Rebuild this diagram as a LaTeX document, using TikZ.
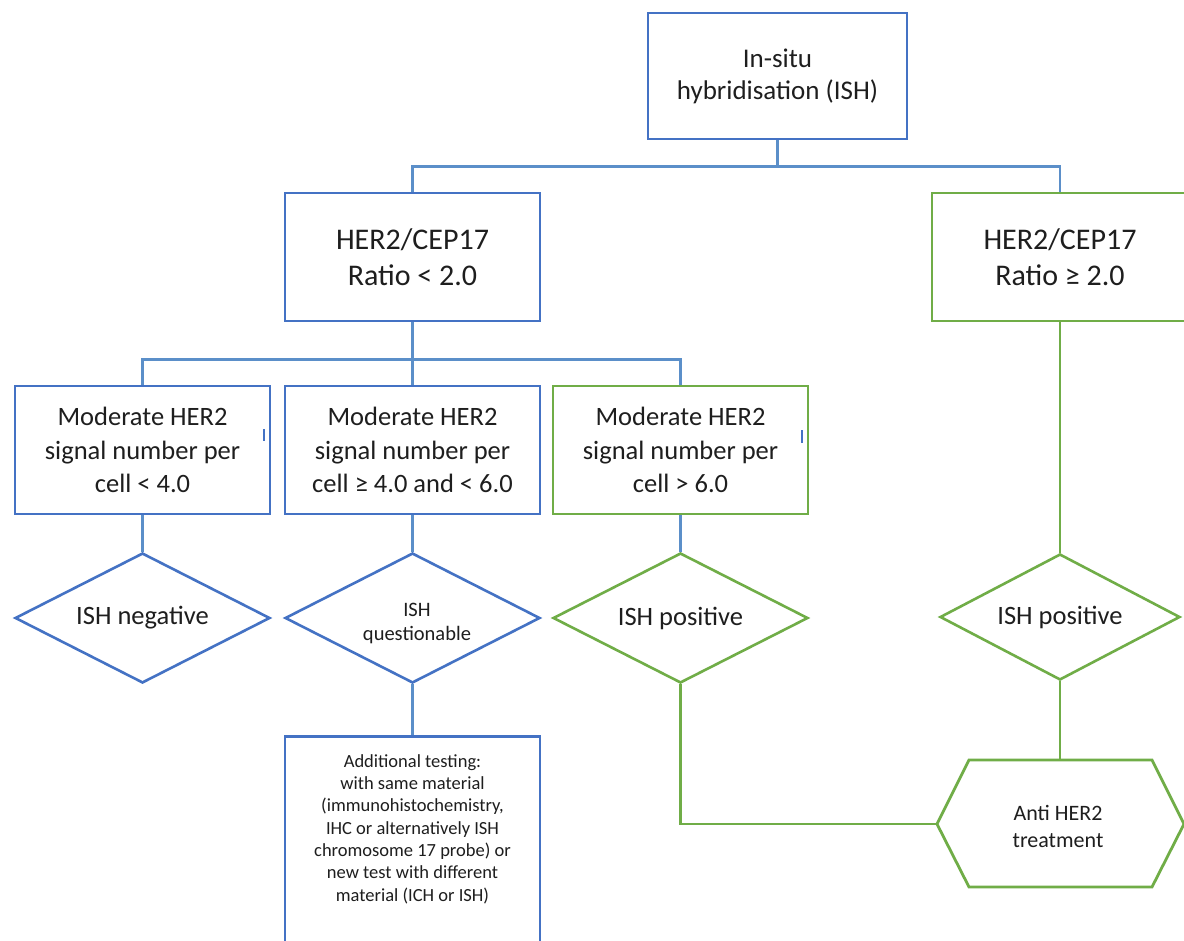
\documentclass[tikz,border=0pt]{standalone}
\usepackage{fontspec}
\setmainfont{Carlito}
\usetikzlibrary{shapes.geometric}
\definecolor{bl}{HTML}{4472C4}
\definecolor{gr}{HTML}{70AD47}
\definecolor{cn}{HTML}{5B8FC9}
\definecolor{tx}{HTML}{1E1E1E}
\tikzset{
  box/.style={rectangle, draw=bl, line width=2.8pt, text=tx, align=center, inner sep=0pt},
  gbox/.style={box, draw=gr},
  dia/.style={diamond, draw=bl, line width=2.6pt, text=tx, align=center, inner sep=0pt, aspect=2},
  gdia/.style={dia, draw=gr},
  con/.style={draw=cn, line width=2.4pt},
  gcon/.style={draw=gr, line width=2.8pt},
  fbig/.style={font=\fontsize{30}{36}\selectfont},
  fmid/.style={font=\fontsize{26.5}{33.5}\selectfont},
  ftop/.style={font=\fontsize{27}{32}\selectfont},
  fdia/.style={font=\fontsize{26.5}{32}\selectfont},
}
\begin{document}
\begin{tikzpicture}[x=1pt,y=-1pt]
\useasboundingbox (0,0) rectangle (1184,941);
\clip (0,0) rectangle (1184,941);
\fill[white] (0,0) rectangle (1184,941);

% level 0
\node[box, ftop, minimum width=259pt, minimum height=126pt] (top) at (777.5,76) {In-situ\\hybridisation (ISH)};
% level 1
\node[box, fbig, minimum width=255pt, minimum height=128pt] (l1) at (412.5,257) {HER2/CEP17\\Ratio < 2.0};
\node[gbox, fbig, minimum width=256pt, minimum height=128pt] (r1) at (1060,257) {HER2/CEP17\\Ratio ≥ 2.0};
% level 2
\node[box, fmid, minimum width=255pt, minimum height=128pt] (m1) at (142.5,450) {Moderate HER2\\signal number per\\cell < 4.0};
\node[box, fmid, minimum width=255pt, minimum height=128pt] (m2) at (412.5,450) {Moderate HER2\\signal number per\\cell ≥ 4.0 and < 6.0};
\node[gbox, fmid, minimum width=255pt, minimum height=128pt] (m3) at (680.5,450) {Moderate HER2\\signal number per\\cell > 6.0};
% diamonds
\node[dia, fdia, minimum width=255pt, minimum height=130pt] (d1) at (142.5,618) {ISH negative};
\node[dia, minimum width=255pt, minimum height=130pt] (d2) at (412.5,618) {};
\node[text=tx, align=center, inner sep=0pt, font=\fontsize{20.5}{24}\selectfont] (d2txt) at (417,623) {ISH\\questionable};
\node[gdia, fdia, minimum width=255pt, minimum height=130pt] (d3) at (680.5,618) {ISH positive};
\node[gdia, fdia, minimum width=240pt, minimum height=126pt] (d4) at (1060,617) {\raisebox{2pt}{ISH positive}};

% additional testing box (cut off at the bottom)
\node[box, minimum width=255pt, minimum height=240pt, anchor=north] (add) at (412.5,735) {};
\node[text=tx, align=center, font=\fontsize{18.5}{22.3}\selectfont] (addtxt) at (412.5,829)
  {Additional testing:\\with same material\\(immunohistochemistry,\\IHC or alternatively ISH\\chromosome 17 probe) or\\new test with different\\material (ICH or ISH)};

% hexagon
\coordinate (hexT) at (1060,760);
\coordinate (hexL) at (937,824);
\draw[gcon, line join=miter] (969,760) -- (1152,760) -- (1184,824) -- (1152,887) -- (969,887) -- (hexL) -- cycle;
\node[text=tx, align=center, font=\fontsize{22}{27}\selectfont] (hex) at (1058,826) {Anti HER2\\treatment};

% connectors
\draw[con] (top.south) -- ++(0,26) -| (l1.north);
\draw[con] (top.south) -- ++(0,26) -| (r1.north);
\draw[con] (l1.south) -- ++(0,37) -| (m1.north);
\draw[con] (l1.south) -- ++(0,37) -| (m3.north);
\draw[con] (l1.south) -- (m2.north);
\draw[con] (m1.south) -- (d1.north);
\draw[con] (m2.south) -- (d2.north);
\draw[con] (m3.south) -- (d3.north);
\draw[con] (d2.south) -- (add.north);
\draw[gcon] (r1.south) -- (d4.north);
\draw[gcon] (d3.south) |- (hexL);
\draw[gcon] (d4.south) -- (hexT);

% small stray marks shown in the picture
\draw[bl, line width=1.5pt] (264,429) -- (264,441);
\draw[bl, line width=1.5pt] (802,430) -- (802,443);
\end{tikzpicture}
\end{document}
